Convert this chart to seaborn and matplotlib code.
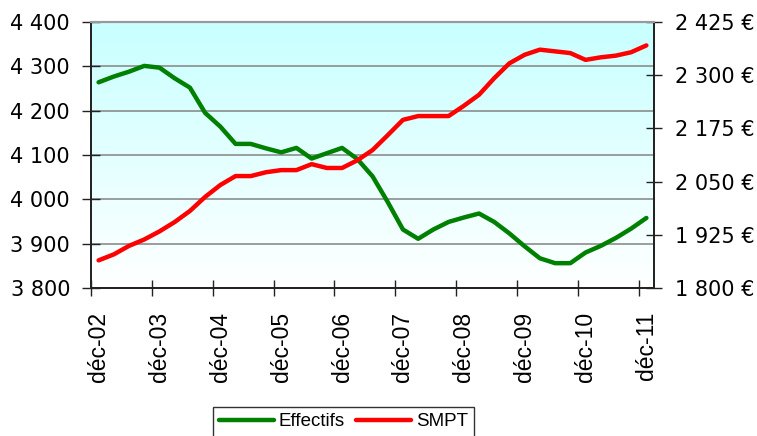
import numpy as np
import matplotlib
matplotlib.use("Agg")
import matplotlib.pyplot as plt
import seaborn as sns
from matplotlib.colors import LinearSegmentedColormap
from matplotlib.ticker import FuncFormatter

# quarterly values, déc-02 .. déc-11
years = ["02", "03", "04", "05", "06", "07", "08", "09", "10", "11"]
tick_labels = ["déc-" + y for y in years]

effectifs = [4264, 4277, 4288, 4301, 4297, 4273, 4252, 4195, 4164, 4125,
             4125, 4115, 4106, 4116, 4092, 4104, 4116, 4091, 4052, 3994,
             3932, 3911, 3932, 3949, 3959, 3968, 3949, 3923, 3894, 3867,
             3856, 3856, 3880, 3895, 3913, 3934, 3958]
smpt = [1865, 1879, 1899, 1914, 1933, 1955, 1981, 2014, 2042, 2063,
        2063, 2072, 2077, 2077, 2091, 2082, 2082, 2100, 2124, 2159,
        2195, 2204, 2204, 2204, 2228, 2254, 2293, 2328, 2348, 2360,
        2356, 2352, 2336, 2342, 2346, 2354, 2370]

left_ticks = [3800, 3900, 4000, 4100, 4200, 4300, 4400]
right_ticks = [1800, 1925, 2050, 2175, 2300, 2425]

sns.set_theme(style="white")
plt.rcParams["font.family"] = ["DejaVu Sans"]
plt.rcParams["text.color"] = "black"
plt.rcParams["xtick.color"] = "black"
plt.rcParams["ytick.color"] = "black"

fig = plt.figure(figsize=(7.57, 4.36), dpi=100)
ax = fig.add_axes([91 / 757, 1 - 288 / 436, 563 / 757, 266 / 436])

x = np.arange(len(effectifs))

# background gradient (white at bottom -> light cyan at top)
cmap = LinearSegmentedColormap.from_list("bg", ["#FFFFFF", "#C8FFFF"])
grad = np.linspace(0, 1, 256).reshape(-1, 1)
ax.imshow(grad, extent=[-0.5, len(x) - 0.5, 3800, 4400], origin="lower",
          aspect="auto", cmap=cmap, zorder=0)

sns.lineplot(x=x, y=effectifs, ax=ax, color="#008000", linewidth=3.2)
ax.set_xlim(-0.5, len(x) - 0.5)
ax.set_ylim(3800, 4400)
ax.set_yticks(left_ticks)
ax.yaxis.set_major_formatter(FuncFormatter(lambda v, p: f"{int(v):,}".replace(",", " ")))
ax.set_axisbelow(True)
ax.yaxis.grid(True, color="#8C8C8C", linewidth=1.2)
ax.xaxis.grid(False)

ax2 = ax.twinx()
sns.lineplot(x=x, y=smpt, ax=ax2, color="#FF0000", linewidth=3.2)
ax2.set_ylim(1800, 2425)
ax2.set_yticks(right_ticks)
ax2.yaxis.set_major_formatter(FuncFormatter(lambda v, p: f"{int(v):,} €".replace(",", " ")))
ax2.grid(False)

for a in (ax, ax2):
    a.set_xlabel("")
    a.set_ylabel("")
    for side in ("left", "bottom", "right"):
        a.spines[side].set_color("#222222")
        a.spines[side].set_linewidth(1.3)
    a.spines["top"].set_color("#999999")
    a.spines["top"].set_linewidth(1.5)

# x axis: tick marks between categories, labels under each december
ax.set_xticks(np.arange(-0.5, len(x) - 0.5, 4))
ax.set_xticklabels([])
ax.set_xticks(np.arange(0, len(x), 4), minor=True)
ax.set_xticklabels(tick_labels, minor=True, rotation=90,
                   fontfamily="Liberation Sans", fontsize=16.5)
ax.tick_params(axis="x", which="major", direction="inout", length=11.5,
               width=1, color="#222222", bottom=True)
ax.tick_params(axis="x", which="minor", length=0, pad=17, bottom=True,
               labelcolor="black")

ax.tick_params(axis="y", direction="inout", length=13, width=1, pad=8.6,
               labelsize=15, color="#222222", labelcolor="black", left=True)
ax2.tick_params(axis="y", direction="inout", length=11.5, width=1, pad=9.4,
                labelsize=15, color="#222222", labelcolor="black", right=True)

leg = fig.legend([ax.lines[0], ax2.lines[0]], ["Effectifs", "SMPT"],
                 loc="upper left", bbox_to_anchor=(212.7 / 757, 1 - 406.7 / 436),
                 borderaxespad=0, ncol=2, frameon=True, fancybox=False,
                 edgecolor="#333333", framealpha=1,
                 prop={"family": "Liberation Sans", "size": 13.5},
                 handlelength=2.9, handletextpad=0.28, columnspacing=0.6,
                 borderpad=0.35)
for t in leg.get_texts():
    t.set_color("black")

fig.savefig("out.png", dpi=100)
